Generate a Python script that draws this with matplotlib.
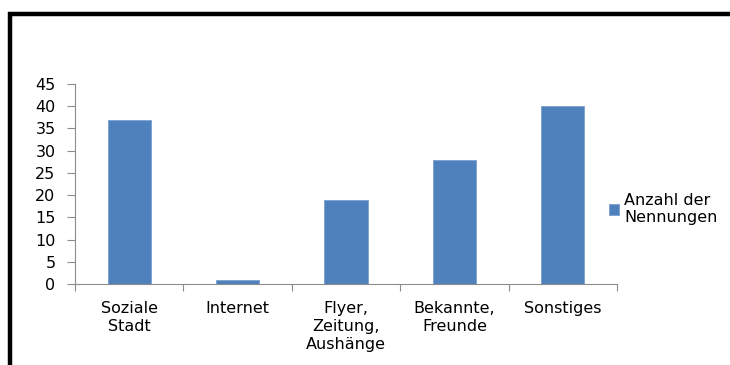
import matplotlib
matplotlib.use("Agg")
import matplotlib.pyplot as plt
from matplotlib.lines import Line2D

categories = ["Soziale\nStadt", "Internet", "Flyer,\nZeitung,\nAushänge", "Bekannte,\nFreunde", "Sonstiges"]
counts = [37, 1, 19, 28, 40]
series_name = "Anzahl der\nNennungen"
y_ticks = [0, 5, 10, 15, 20, 25, 30, 35, 40, 45]

BAR_COLOR = "#4F81BD"
AXIS_COLOR = "#8C8C8C"

plt.rcParams["font.family"] = ["DejaVu Sans"]
plt.rcParams["font.size"] = 11.5

fig = plt.figure(figsize=(7.3, 3.65), dpi=100)
fig.patch.set_facecolor("white")
W, H = 730, 365
ax = fig.add_axes([75 / W, (H - 284) / H, (617 - 75) / W, 200 / H])

x = list(range(len(categories)))
bars = ax.bar(x, counts, width=0.4, color=BAR_COLOR, edgecolor="#7A9FD0", linewidth=0.6, label=series_name)

ax.set_xlim(-0.5, len(categories) - 0.5)
ax.set_ylim(0, 45)
ax.set_yticks(y_ticks)
# category separators as major ticks, names centred on minor ticks
ax.set_xticks([i + 0.5 for i in range(-1, len(categories))], minor=False)
ax.set_xticklabels([])
ax.set_xticks(x, minor=True)
ax.set_xticklabels(categories, minor=True, linespacing=1.25)
ax.tick_params(axis="x", which="major", length=5, color=AXIS_COLOR, direction="out")
ax.tick_params(axis="x", which="minor", length=0, pad=12)
ax.tick_params(axis="y", length=6, color=AXIS_COLOR, pad=8)

for side in ("top", "right"):
    ax.spines[side].set_visible(False)
for side in ("left", "bottom"):
    ax.spines[side].set_color(AXIS_COLOR)
    ax.spines[side].set_linewidth(0.8)

leg = fig.legend(handles=[bars], labels=[series_name], loc="center left",
                 bbox_to_anchor=(601 / W, (H - 209) / H), frameon=False,
                 handlelength=0.65, handleheight=0.65, handletextpad=0.3, borderpad=0)

# heavy frame along the top and left edges
fig.add_artist(Line2D([8 / W, 1.0], [(H - 14) / H, (H - 14) / H], color="black", linewidth=3.2, solid_capstyle="butt"))
fig.add_artist(Line2D([10 / W, 10 / W], [0, (H - 12) / H], color="black", linewidth=3.2, solid_capstyle="butt"))

fig.savefig("out.png", dpi=100)
